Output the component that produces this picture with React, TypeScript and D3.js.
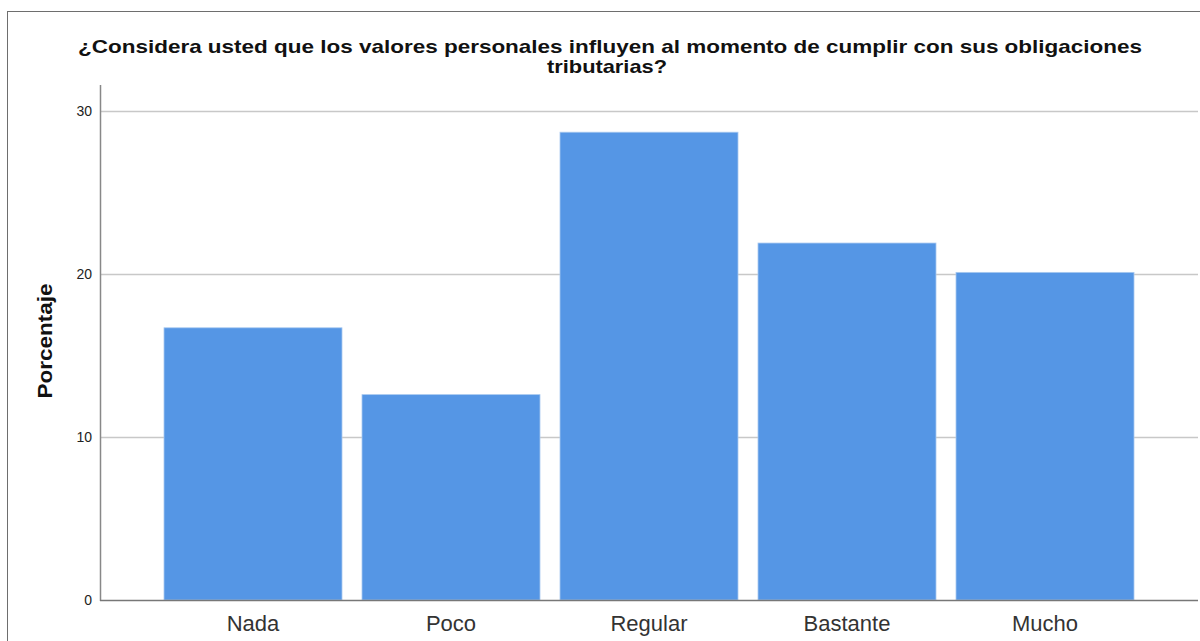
import * as d3 from 'd3';
import React, { useRef, useEffect } from 'react';

// categories and percentages
const categorias = ['Nada', 'Poco', 'Regular', 'Bastante', 'Mucho'];
const porcentajes = [16.7, 12.6, 28.7, 21.9, 20.1];
const ticksY = [0, 10, 20, 30];

const titulo1 = '¿Considera usted que los valores personales influyen al momento de cumplir con sus obligaciones';
const titulo2 = 'tributarias?';

const W = 1200;
const H = 641;

function BarChart() {
    const ref = useRef<SVGSVGElement>(null);

    useEffect(() => {
        const svg = d3.select(ref.current);
        svg.selectAll('*').remove();

        const font = '"Liberation Sans", Arial, sans-serif';

        // outer frame
        svg.append('rect')
            .attr('x', 7.5).attr('y', 11.5)
            .attr('width', W).attr('height', H)
            .attr('fill', 'white')
            .attr('stroke', '#6e6e6e').attr('stroke-width', 1);

        const yScale = d3.scaleLinear().domain([0, 30]).range([600, 111]);
        const xScale = d3.scaleBand()
            .domain(categorias)
            .range([154, 1144])
            .paddingInner(0.101)
            .paddingOuter(0.0505);

        // gridlines
        svg.append('g')
            .selectAll('line')
            .data(ticksY.filter(d => d > 0))
            .enter().append('line')
            .attr('x1', 100).attr('x2', 1198)
            .attr('y1', d => Math.round(yScale(d)) + 0.5)
            .attr('y2', d => Math.round(yScale(d)) + 0.5)
            .attr('stroke', '#c8c8c8').attr('stroke-width', 1.5);

        // bars
        svg.append('g')
            .selectAll('rect')
            .data(porcentajes)
            .enter().append('rect')
            .attr('x', (d, i) => xScale(categorias[i]) as number)
            .attr('y', d => yScale(d))
            .attr('width', xScale.bandwidth())
            .attr('height', d => yScale(0) - yScale(d))
            .attr('fill', '#5596e5')
            .attr('stroke', '#a9c9f0').attr('stroke-width', 0.8);

        // y axis
        const yAxis = svg.append('g')
            .attr('transform', 'translate(100,0)')
            .attr('font-size', null)
            .call(d3.axisLeft(yScale).tickValues(ticksY).tickSize(0).tickPadding(8));
        yAxis.select('.domain').remove();
        yAxis.selectAll('text')
            .attr('dy', '0.35em')
            .style('font-family', font).style('font-size', '14px').attr('fill', '#222');
        svg.append('line')
            .attr('x1', 100.5).attr('x2', 100.5)
            .attr('y1', 85).attr('y2', 601)
            .attr('stroke', '#888').attr('stroke-width', 1.5);

        // x axis
        const xAxis = svg.append('g')
            .attr('transform', 'translate(0,600)')
            .call(d3.axisBottom(xScale).tickSize(0).tickPadding(0));
        xAxis.select('.domain').remove();
        xAxis.selectAll('text')
            .attr('y', 31).attr('dy', null)
            .style('font-family', font).style('font-size', '22px').attr('fill', '#333');
        svg.append('line')
            .attr('x1', 100).attr('x2', 1198)
            .attr('y1', 600.5).attr('y2', 600.5)
            .attr('stroke', '#777').attr('stroke-width', 1.5);

        // title
        svg.append('text')
            .attr('x', 610).attr('y', 53)
            .attr('text-anchor', 'middle')
            .attr('textLength', 1064).attr('lengthAdjust', 'spacingAndGlyphs')
            .style('font-family', font).style('font-weight', 'bold').style('font-size', '19px')
            .attr('fill', '#111')
            .text(titulo1);
        svg.append('text')
            .attr('x', 607).attr('y', 73)
            .attr('text-anchor', 'middle')
            .attr('textLength', 120).attr('lengthAdjust', 'spacingAndGlyphs')
            .style('font-family', font).style('font-weight', 'bold').style('font-size', '19px')
            .attr('fill', '#111')
            .text(titulo2);

        // y axis title
        svg.append('text')
            .attr('transform', 'translate(52,341) rotate(-90)')
            .attr('text-anchor', 'middle')
            .attr('textLength', 115).attr('lengthAdjust', 'spacingAndGlyphs')
            .style('font-family', font).style('font-weight', 'bold').style('font-size', '20px')
            .attr('fill', '#111')
            .text('Porcentaje');
    }, []);

    return <svg ref={ref} width={W} height={H} style={{ display: 'block' }}></svg>;
}

export default function App() {
    return (
        <div style={{ position: 'absolute', left: 0, top: 0 }}>
            <BarChart />
        </div>
    );
}
